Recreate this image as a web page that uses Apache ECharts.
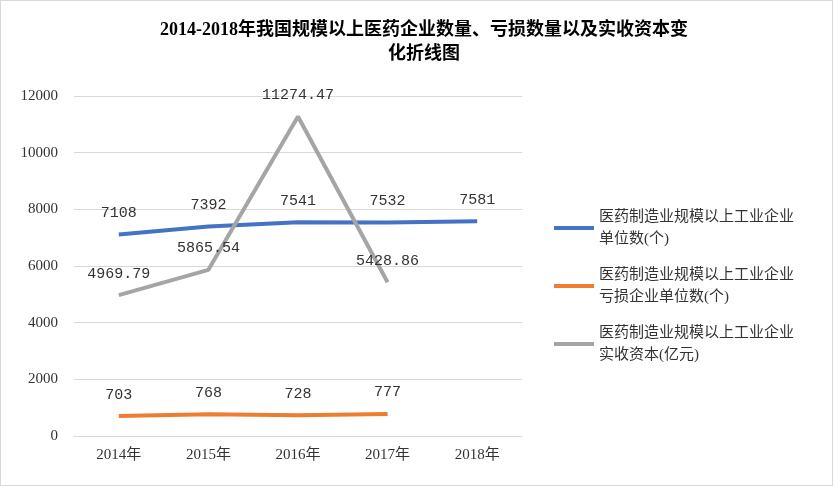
<!DOCTYPE html>
<html style="height: 100%">
<head>
    <meta charset="utf-8">
    <title>医药企业折线图</title>
    <script type="text/javascript" src="https://cdn.jsdelivr.net/npm/echarts@6/dist/echarts.min.js"></script>
</head>
<body style="width: 100%;margin: 0;height: 100%">
<div id="container" style="width: 831px;height: 484px;border: 1px solid #d9d9d9"></div>
<script type="application/javascript">
    var years = ['2014年', '2015年', '2016年', '2017年', '2018年'];
    var unitCount = [7108, 7392, 7541, 7532, 7581];
    var lossCount = [703, 768, 728, 777, null];
    var capital = [4969.79, 5865.54, 11274.47, 5428.86, null];
    var names = ['医药制造业规模以上工业企业单位数(个)', '医药制造业规模以上工业企业亏损企业单位数(个)', '医药制造业规模以上工业企业实收资本(亿元)'];
    var colors = ['#4472c4', '#ed7d31', '#a5a5a5'];
    var font = '"Liberation Serif", "Noto Sans CJK SC"';
    var labelFont = '"Liberation Mono", "Noto Sans CJK SC"';

    function wrap(s) {
        return s.length > 13 ? s.slice(0, 13) + '\n' + s.slice(13) : s;
    }

    function makeSeries(i, data) {
        return {
            name: names[i],
            type: 'line',
            data: data,
            symbol: 'circle',
            symbolSize: 0,
            lineStyle: {width: 4, color: colors[i]},
            itemStyle: {color: colors[i]},
            label: {show: true, position: 'top', distance: 14, fontSize: 15, color: '#333', fontFamily: labelFont}
        };
    }

    var myChart = echarts.init(document.getElementById('container'));
    var option = {
        textStyle: {fontFamily: font},
        title: {
            text: '2014-2018年我国规模以上医药企业数量、亏损数量以及实收资本变\n化折线图',
            left: 418, top: 12, textAlign: 'center',
            textStyle: {fontSize: 18, fontWeight: 'bold', color: '#000', lineHeight: 24, fontFamily: font}
        },
        legend: {
            orient: 'vertical', left: 548, top: 200, itemGap: 14,
            itemWidth: 40, itemHeight: 4, icon: 'rect',
            formatter: wrap,
            textStyle: {fontSize: 15, color: '#333', lineHeight: 22, fontFamily: font}
        },
        grid: {left: 73, right: 310, top: 95, bottom: 49},
        xAxis: {
            type: 'category', data: years,
            axisLine: {lineStyle: {color: '#d9d9d9'}},
            axisTick: {show: false},
            axisLabel: {color: '#333', fontSize: 15, margin: 12}
        },
        yAxis: {
            type: 'value', min: 0, max: 12000, interval: 2000,
            axisLine: {show: false}, axisTick: {show: false},
            splitLine: {lineStyle: {color: '#d9d9d9'}},
            axisLabel: {color: '#333', fontSize: 15, margin: 16, formatter: function (v) { return String(v); }}
        },
        series: [makeSeries(0, unitCount), makeSeries(1, lossCount), makeSeries(2, capital)]
    };
    myChart.setOption(option, true);
</script>
</body>
</html>
